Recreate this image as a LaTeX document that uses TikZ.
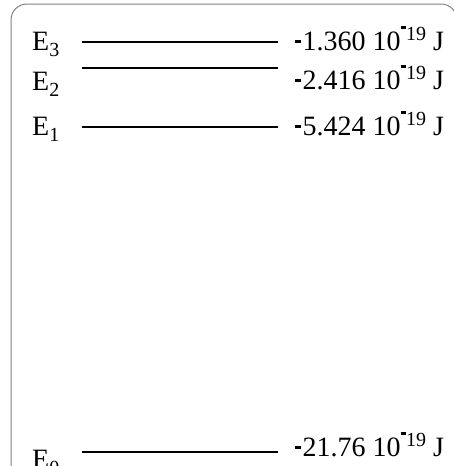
\documentclass[tikz,border=0pt]{standalone}
\usepackage{fontspec}
\setmainfont{Liberation Serif}
\newcommand{\sbs}[1]{\raisebox{-6.5pt}{\fontsize{20}{20}\selectfont #1}}
\newcommand{\hyph}{\rule[7pt]{6pt}{3pt}\kern1.5pt}
\newcommand{\shyph}{\rule[11.5pt]{5pt}{2.8pt}\kern0.5pt}
\newcommand{\enval}[1]{\hyph#1 10\raisebox{9.5pt}{\fontsize{20}{20}\selectfont\shyph 19} J}
\begin{document}
\begin{tikzpicture}[x=1pt,y=-1pt,
  level/.style={line width=2pt, line cap=butt},
  lbl/.style={anchor=base west, inner sep=0pt, font=\fontsize{28}{32}\selectfont},
  frame/.style={draw=black!50, line width=1pt, rounded corners=16pt}]
\useasboundingbox (0,0) rectangle (454,466);
\draw[frame] (11,480) -- (11,4) -- (457,4) -- (457,480);
% level lines
\coordinate (e3a) at (82,42);  \coordinate (e3b) at (278,42);
\coordinate (e2a) at (82,68);  \coordinate (e2b) at (278,68);
\coordinate (e1a) at (82,127); \coordinate (e1b) at (278,127);
\coordinate (e0a) at (82,452); \coordinate (e0b) at (278,452);
\draw[level] (e3a) -- (e3b);
\draw[level] (e2a) -- (e2b);
\draw[level] (e1a) -- (e1b);
\draw[level] (e0a) -- (e0b);
% labels
\node[lbl] (e3lab) at (32,50) {E\sbs{3}};
\node[lbl] (e2lab) at (32,90) {E\sbs{2}};
\node[lbl] (e1lab) at (32,135) {E\sbs{1}};
\node[lbl] (e0lab) at (32,468) {E\sbs{0}};
\node[lbl] (e3val) at (295,50) {\enval{1.360}};
\node[lbl] (e2val) at (295,89) {\enval{2.416}};
\node[lbl] (e1val) at (295,135) {\enval{5.424}};
\node[lbl] (e0val) at (295,456) {\enval{21.76}};
\end{tikzpicture}
\end{document}
